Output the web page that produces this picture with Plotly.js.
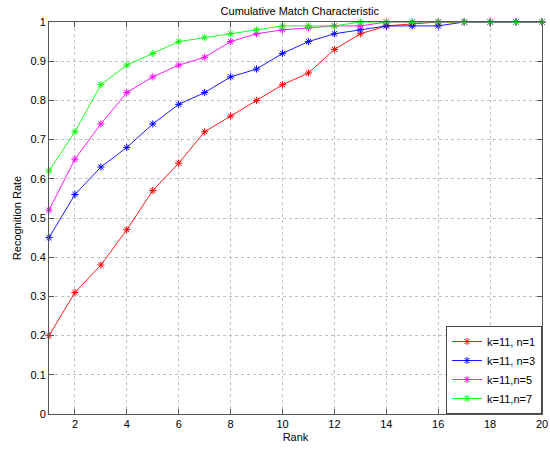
<!DOCTYPE html>
<html>
<head>
<meta charset="utf-8">
<script src="https://cdn.plot.ly/plotly-3.0.1.min.js"></script>
<style>html,body{margin:0;padding:0;background:#fff;overflow:hidden;}#chart{width:550px;height:449px;}</style>
</head>
<body>
<div id="chart"></div>
<script>
var ranks = [1,2,3,4,5,6,7,8,9,10,11,12,13,14,15,16,17,18,19,20];
var n1 = [0.20,0.31,0.38,0.47,0.57,0.64,0.72,0.76,0.80,0.84,0.87,0.93,0.97,0.99,0.995,1,1,1,1,1];
var n3 = [0.45,0.56,0.63,0.68,0.74,0.79,0.82,0.86,0.88,0.92,0.95,0.97,0.98,0.99,0.99,0.99,1,1,1,1];
var n5 = [0.52,0.65,0.74,0.82,0.86,0.89,0.91,0.95,0.97,0.98,0.985,0.99,0.99,1,1,1,1,1,1,1];
var n7 = [0.62,0.72,0.84,0.89,0.92,0.95,0.96,0.97,0.98,0.99,0.99,0.99,1,1,1,1,1,1,1,1];
var names = ['k=11, n=1','k=11, n=3','k=11,n=5','k=11,n=7'];
var colors = ['#ff0000','#0000ff','#ff00ff','#00ff00'];
var series = [n1,n3,n5,n7];
var yTicks = [0,0.1,0.2,0.3,0.4,0.5,0.6,0.7,0.8,0.9,1];
var yTickText = ['0','0.1','0.2','0.3','0.4','0.5','0.6','0.7','0.8','0.9','1'];
var xTicks = [2,4,6,8,10,12,14,16,18,20];

var traces = series.map(function(s,i){
  return {x: ranks, y: s, name: names[i], mode: 'lines+markers', type: 'scatter', cliponaxis: false,
    line: {color: colors[i], width: 0.9},
    marker: {symbol: 'asterisk-open', size: 6, color: colors[i], line: {color: colors[i], width: 1}}};
});

var layout = {
  width: 550, height: 449,
  margin: {l: 49, r: 8, t: 22, b: 35},
  paper_bgcolor: '#fff', plot_bgcolor: '#fff',
  font: {family: 'Liberation Sans, Arial, sans-serif', size: 11, color: '#000'},
  title: {text: 'Cumulative Match Characteristic', font: {size: 11}, x: 0.545, xanchor: 'center', y: 0.976, yanchor: 'middle'},
  xaxis: {range: [1,20], tickvals: xTicks, ticks: 'inside', ticklen: 5, tickcolor: '#555', ticklabeloverflow: 'allow',
    showgrid: true, gridcolor: '#c0c0c0', griddash: 'dot', zeroline: false,
    showline: true, linecolor: '#555', linewidth: 1, mirror: 'ticks',
    title: {text: 'Rank', font: {size: 11}, standoff: 4}, tickfont: {size: 11}},
  yaxis: {range: [0,1], tickvals: yTicks, ticktext: yTickText, ticks: 'inside', ticklen: 5, tickcolor: '#555',
    showgrid: true, gridcolor: '#c0c0c0', griddash: 'dot', zeroline: false,
    showline: true, linecolor: '#555', linewidth: 1, mirror: 'ticks',
    title: {text: 'Recognition Rate', font: {size: 11}, standoff: 6}, tickfont: {size: 11}},
  legend: {x: 1, xanchor: 'right', y: 0, yanchor: 'bottom', bgcolor: '#fff', bordercolor: '#444', borderwidth: 1,
    font: {size: 11}, tracegroupgap: 0, itemwidth: 30},
  showlegend: true
};
Plotly.newPlot('chart', traces, layout, {displayModeBar: false, staticPlot: true});
</script>
</body>
</html>
